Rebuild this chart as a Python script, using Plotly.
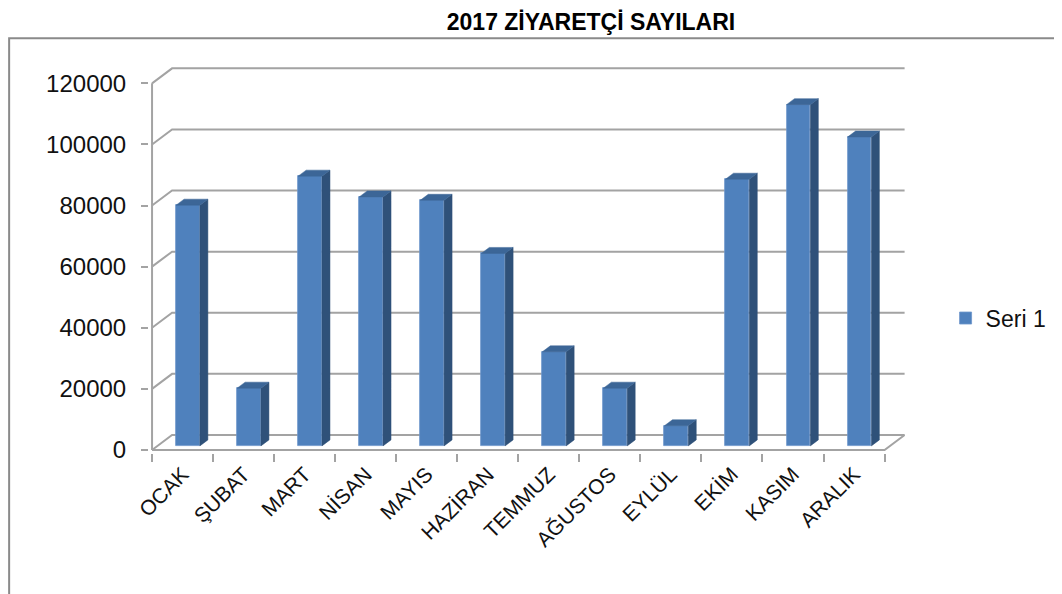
import plotly.graph_objects as go

# ---- data ----
months = ["OCAK", "ŞUBAT", "MART", "NİSAN", "MAYIS", "HAZİRAN",
          "TEMMUZ", "AĞUSTOS", "EYLÜL", "EKİM", "KASIM", "ARALIK"]
values = [78800, 18900, 88300, 81500, 80400, 63000,
          30800, 18900, 6600, 87300, 111700, 101100]
y_ticks = [0, 20000, 40000, 60000, 80000, 100000, 120000]
series_name = "Seri 1"
title_text = "2017 ZİYARETÇİ SAYILARI"

# ---- pseudo-3D geometry (in axis units) ----
W, H = 1062, 594
OFF = 8               # page body margin offset
PX_U = 61.08          # px per category unit
PX_V = 0.003058       # px per value unit
DX, DY = 0.328, 4905  # full wall depth offset
F_FRONT, F_BACK = 0.27, 0.67
BAR_W = 0.39
x_range = [-0.05, 12.4]
y_range = [-1000, 126000]
X0_PX, Y0_PX = 152 - OFF, 450 - OFF

n = len(months)
front_dx, front_dy = F_FRONT * DX, F_FRONT * DY
dep_dx, dep_dy = (F_BACK - F_FRONT) * DX, (F_BACK - F_FRONT) * DY

C_FRONT = "#4f81bd"
C_SIDE = "#2f5179"
C_TOP = "#3c6697"
C_GRID = "#a3a3a3"

fig = go.Figure()

centers = [i + 0.5 + front_dx for i in range(n)]
fig.add_trace(go.Bar(
    x=centers, y=values, base=[front_dy] * n, width=BAR_W,
    marker=dict(color=C_FRONT, line=dict(color="#6e97cc", width=0.8)),
    name=series_name, showlegend=True, hoverinfo="skip"))

side_x, side_y, top_x, top_y = [], [], [], []
for c, v in zip(centers, values):
    xl, xr = c - BAR_W / 2, c + BAR_W / 2
    yb, yt = front_dy, front_dy + v
    side_x += [xr, xr + dep_dx, xr + dep_dx, xr, xr, None]
    side_y += [yb, yb + dep_dy, yt + dep_dy, yt, yb, None]
    top_x += [xl, xr, xr + dep_dx, xl + dep_dx, xl, None]
    top_y += [yt, yt, yt + dep_dy, yt + dep_dy, yt, None]

fig.add_trace(go.Scatter(x=side_x, y=side_y, mode="lines", fill="toself",
                         fillcolor=C_SIDE, line=dict(color=C_SIDE, width=0.5),
                         showlegend=False, hoverinfo="skip"))
fig.add_trace(go.Scatter(x=top_x, y=top_y, mode="lines", fill="toself",
                         fillcolor=C_TOP, line=dict(color=C_TOP, width=0.5),
                         showlegend=False, hoverinfo="skip"))

shapes = []
for v in y_ticks:
    shapes.append(dict(type="path", xref="x", yref="y", layer="below",
                       path=f"M 0,{v} L {DX},{v + DY} L {n + DX},{v + DY}",
                       line=dict(color=C_GRID, width=2)))
# floor front edge
shapes.append(dict(type="path", xref="x", yref="y", layer="below",
                   path=f"M 0,0 L {n},0 L {n + DX},{DY}",
                   line=dict(color=C_GRID, width=2)))
# vertical axis
shapes.append(dict(type="line", xref="x", yref="y", layer="below",
                   x0=0, x1=0, y0=0, y1=y_ticks[-1],
                   line=dict(color=C_GRID, width=2)))

# margins so that value 0 / category 0 land where the reference has them
l = X0_PX - (0 - x_range[0]) * PX_U
r = W - (X0_PX + x_range[1] * PX_U)
t = Y0_PX - y_range[1] * PX_V
b = H - (Y0_PX - y_range[0] * PX_V)
pw, ph = W - l - r, H - t - b


def px_to_paper_x(px):
    return (px - OFF - l) / pw


def px_to_paper_y(py):
    return (H - b - (py - OFF)) / ph


# chart frame
shapes.append(dict(type="rect", xref="paper", yref="paper",
                   x0=px_to_paper_x(9), x1=px_to_paper_x(1090),
                   y0=px_to_paper_y(620), y1=px_to_paper_y(38),
                   line=dict(color="#8a8a8a", width=2), layer="below"))

FONT = "Liberation Sans"
fig.update_layout(
    template="none",
    width=W, height=H,
    margin=dict(l=l, r=r, t=t, b=b, pad=0, autoexpand=False),
    plot_bgcolor="white", paper_bgcolor="white",
    shapes=shapes,
    bargap=0,
    hovermode=False,
    title=dict(text=f"<b>{title_text}</b>", x=(591 - OFF) / W, xref="container",
               xanchor="center", y=1 - (22 - OFF) / H, yanchor="middle",
               font=dict(family=FONT, size=23, color="#000000")),
    legend=dict(x=px_to_paper_x(946), y=px_to_paper_y(318), xanchor="left",
                yanchor="middle", font=dict(family=FONT, size=23, color="#111111"),
                bgcolor="rgba(0,0,0,0)", borderwidth=0),
    xaxis=dict(range=x_range, showgrid=False, zeroline=False, showline=False,
               automargin=False,
               tickmode="array", tickvals=[i + 0.5 for i in range(n)],
               ticktext=months, tickangle=-45, ticks="",
               tickfont=dict(family=FONT, size=21, color="#111111"),
               ticklabelstandoff=4,
               minor=dict(tickmode="array", tickvals=list(range(n + 1)),
                          ticks="outside", ticklen=8, tickwidth=2,
                          tickcolor=C_GRID, showgrid=False)),
    yaxis=dict(range=y_range, showgrid=False, zeroline=False, showline=False,
               automargin=False,
               tickmode="array", tickvals=y_ticks,
               ticktext=[str(v) for v in y_ticks],
               ticks="outside", ticklen=7, tickwidth=2, tickcolor=C_GRID,
               ticklabelstandoff=10,
               tickfont=dict(family=FONT, size=24, color="#111111")),
)

fig.write_html("out.html")
